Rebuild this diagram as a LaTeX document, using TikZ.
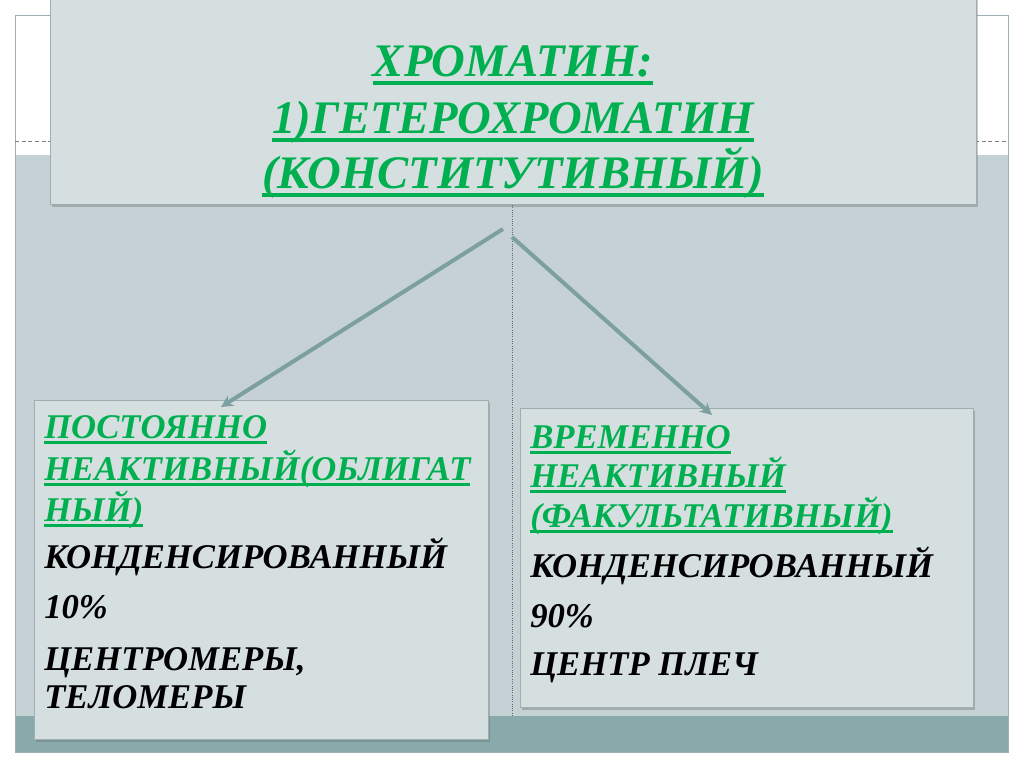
\documentclass[tikz,border=0pt]{standalone}
\usepackage{fontspec}
\setmainfont{Liberation Serif}
\usetikzlibrary{arrows.meta,shadows,calc}
\definecolor{bgarea}{HTML}{C6D1D6}
\definecolor{boxfill}{HTML}{D5DFE0}
\definecolor{boxline}{HTML}{9DAFB2}
\definecolor{teal}{HTML}{88AAAA}
\definecolor{grn}{HTML}{00B050}
\definecolor{arr}{HTML}{7C9FA0}
\newcommand\gul[1]{\setbox0=\hbox{#1}\rlap{\rule[-0.17em]{\wd0}{0.08em}}\box0}
\newcommand\tul[1]{\setbox0=\hbox{#1}\rlap{\rule[-0.2em]{\wd0}{0.1em}}\box0}
\tikzset{
  card/.style={draw=boxline, line width=0.6pt, fill=boxfill, inner sep=0pt,
    drop shadow={shadow xshift=1.5pt, shadow yshift=-2pt, opacity=0.35, fill=black!60}},
  ttl/.style={anchor=base, inner sep=0pt, text=grn, font=\fontsize{35}{40}\selectfont\bfseries\itshape},
  hd/.style={anchor=base west, inner sep=0pt, text=grn, font=\fontsize{26}{30}\selectfont\bfseries\itshape},
  bd/.style={anchor=base west, inner sep=0pt, text=black, font=\fontsize{26}{30}\selectfont\bfseries\itshape},
  link/.style={draw=arr, line width=3pt, -{Stealth[length=9pt,width=9pt]}},
}
\begin{document}
\begin{tikzpicture}[x=0.75pt,y=-0.75pt]
\useasboundingbox (0,0) rectangle (1024,767);
\fill[white] (0,0) rectangle (1024,767);
% slide frame
\draw[boxline, line width=0.6pt, fill=white] (15,15) rectangle (1008,752);
\fill[bgarea] (15,155) rectangle (1008,716);
\fill[teal] (15,716) rectangle (1008,752);
\draw[boxline, line width=0.6pt] (15,15) rectangle (1008,752);
\draw[gray, densely dashed, line width=0.5pt] (15,141) -- (1008,141);
% vertical dotted divider
\coordinate (vt) at (512,205);
\coordinate (vb) at (512,716);
\draw[gray!80!black, densely dotted, line width=0.7pt] (vt) -- (vb);
% title box
\node[card, minimum width=926*0.75pt, minimum height=210*0.75pt, anchor=south west] (title) at (50,205) {};
\node[ttl] (t1) at (513,76) {\tul{ХРОМАТИН:}};
\node[ttl] (t2) at (513,133) {\tul{1)ГЕТЕРОХРОМАТИН}};
\node[ttl] (t3) at (513,188) {\tul{(КОНСТИТУТИВНЫЙ)}};
% left box
\node[card, minimum width=454*0.75pt, minimum height=339*0.75pt, anchor=north west] (lbox) at (34,400) {};
\node[hd] (l1) at (44,438) {\gul{ПОСТОЯННО}};
\node[hd] (l2) at (44,480) {\gul{НЕАКТИВНЫЙ(ОБЛИГАТ}};
\node[hd] (l3) at (44,521) {\gul{НЫЙ)}};
\node[bd] (l4) at (44,568) {КОНДЕНСИРОВАННЫЙ};
\node[bd] (l5) at (44,618) {10\%};
\node[bd] (l6) at (44,670) {ЦЕНТРОМЕРЫ,};
\node[bd] (l7) at (44,708) {ТЕЛОМЕРЫ};
% right box
\node[card, minimum width=453*0.75pt, minimum height=299*0.75pt, anchor=north west] (rbox) at (520,408) {};
\node[hd] (r1) at (530,448) {\gul{ВРЕМЕННО}};
\node[hd] (r2) at (530,487) {\gul{НЕАКТИВНЫЙ}};
\node[hd] (r3) at (530,527) {\gul{(ФАКУЛЬТАТИВНЫЙ)}};
\node[bd] (r4) at (530,577) {КОНДЕНСИРОВАННЫЙ};
\node[bd] (r5) at (530,627) {90\%};
\node[bd] (r6) at (530,675) {ЦЕНТР ПЛЕЧ};
% connectors
\coordinate (sL) at (503,229);
\coordinate (sR) at (512,237);
\draw[link] (sL) -- ($(lbox.north west)+(187,7)$);
\draw[link] (sR) -- ($(rbox.north west)+(192,7)$);
\end{tikzpicture}
\end{document}
